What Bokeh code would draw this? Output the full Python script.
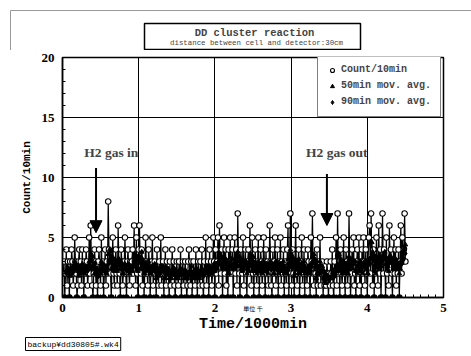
from bokeh.plotting import figure
from bokeh.models import (Legend, LegendItem, Label, Arrow, NormalHead, FixedTicker, Range1d,
                          LinearAxis, Title)
from bokeh.layouts import column
from bokeh.embed import file_html
from bokeh.resources import INLINE

# ---- data (counts per 10 min) ----
counts = [
    2,3,0,2,4,1,3,2,0,3, 2,4,3,1,2,5,3,2,0,1, 3,4,2,3,1,4,2,0,3,2,
    4,3,1,2,5,2,6,3,1,0, 2,4,3,1,2,0,3,4,2,1, 5,2,3,0,2,4,1,3,2,8,
    4,3,2,0,3,5,2,1,3,4, 2,1,6,3,2,0,4,3,1,2, 3,5,2,0,3,4,2,1,3,2,
    3,4,2,6,3,1,5,2,0,4, 6,3,2,4,1,3,0,2,5,3, 2,1,4,3,0,2,3,5,1,2,
    3,2,0,4,2,1,3,2,5,1, 2,3,0,2,4,1,3,2,2,0, 3,1,2,4,2,3,1,0,2,3,
    2,1,3,2,4,0,2,3,1,2, 3,2,0,1,3,4,2,1,3,0, 2,3,2,1,4,2,0,3,2,1,
    3,2,4,1,0,3,2,5,1,2, 3,0,4,2,3,1,2,5,3,0, 4,2,3,5,1,6,3,2,4,0,
    3,5,2,4,1,3,0,4,2,5, 3,2,4,0,3,5,2,4,1,7, 3,2,0,4,3,2,5,1,3,4,
    2,0,3,4,2,6,3,1,5,2, 0,3,4,2,1,3,5,0,2,4, 3,1,2,5,3,0,4,2,3,1,
    2,6,3,1,0,4,2,3,5,1, 2,4,0,3,2,5,1,3,2,4, 0,3,2,1,4,6,0,3,7,2,
    1,4,2,0,3,6,2,1,3,4, 0,2,3,5,1,2,4,0,3,2, 1,4,3,2,0,5,3,7,2,1,
    3,2,0,4,1,3,2,5,1,2, 3,0,2,1,2,1,3,2,0,2, 1,3,2,4,1,0,3,2,5,1,
    7,2,3,0,4,2,1,3,5,2, 0,4,3,1,2,7,3,0,2,4, 3,5,1,2,0,3,4,2,5,1,
    3,0,4,2,5,3,1,4,2,0, 3,5,6,2,7,3,1,4,0,3, 2,5,3,1,6,2,4,0,3,7,
    2,4,3,0,5,2,3,1,6,3, 4,2,0,3,5,2,4,1,3,2, 4,0,3,6,2,5,3,4,7,3,
]
interval_min = 10
time_k = [(i + 1) * interval_min / 1000.0 for i in range(len(counts))]

def mov_avg(vals, n):
    out = []
    for i in range(len(vals)):
        if i + 1 < n:
            out.append(float("nan"))
        else:
            out.append(sum(vals[i + 1 - n:i + 1]) / n)
    return out

avg50 = mov_avg(counts, 5)
avg90 = mov_avg(counts, 9)

x_ticks = [0, 1, 2, 3, 4, 5]
y_ticks = [0, 5, 10, 15, 20]
series_names = ["Count/10min", "50min mov. avg.", "90min mov. avg."]
title_text = "DD cluster reaction"
subtitle_text = "distance between cell and detector:30cm"
footnote_text = "backup¥dd30805#.wk4"

# annotation positions (data units)
gas_in_text = (0.64, 12.1)
gas_in_arrow = (0.44, 10.8, 5.4)
gas_out_text = (3.6, 12.1)
gas_out_arrow = (3.47, 10.3, 6.0)

MONO = "Liberation Mono"
SERIF = "Liberation Serif"
W = 471
TOP_H = 50
MAIN_H = 356 - TOP_H

# ---------------- top strip: title box ----------------
t = figure(width=W, height=TOP_H, output_backend="svg", toolbar_location=None,
           y_range=Range1d(TOP_H, 0), min_border=0, x_axis_type=None, y_axis_type=None)
if "frame_align" in t.properties():
    t.frame_align = False
    t.x_range = Range1d(0, W)
    page_x0 = 10
else:
    t.min_border_left = 62
    t.min_border_right = 28
    t.x_range = Range1d(62, 443)
    page_x0 = 62
t.outline_line_color = None
t.grid.visible = False
t.background_fill_color = "white"
t.border_fill_color = "white"
t.segment(x0=[page_x0], y0=[10], x1=[W], y1=[10], line_color="#999999", line_width=1)
t.segment(x0=[page_x0], y0=[10], x1=[page_x0], y1=[TOP_H], line_color="#999999", line_width=1)
t.quad(left=[144], right=[360], top=[23], bottom=[49], fill_color="white",
       line_color="black", line_width=1.5)
t.add_layout(Label(x=254, y=32, text=title_text, text_font=MONO, text_font_style="bold",
                   text_font_size="10.5px", text_align="center", text_baseline="middle"))
t.add_layout(Label(x=256, y=42.5, text=subtitle_text, text_font=MONO,
                   text_font_size="7.4px", text_align="center", text_baseline="middle"))

# ---------------- main chart ----------------
p = figure(width=W, height=MAIN_H, output_backend="svg", toolbar_location=None,
           x_range=Range1d(0, 5), y_range=Range1d(0, 20),
           min_border_left=62, min_border_right=28, min_border_top=7, min_border_bottom=59)
p.background_fill_color = "white"
p.border_fill_color = "white"
p.outline_line_color = "black"
p.outline_line_width = 1.5

for ax in (p.xaxis[0], p.yaxis[0]):
    ax.major_tick_in = 5
    ax.major_tick_out = 0
    ax.minor_tick_in = 3
    ax.minor_tick_out = 0
    ax.axis_line_color = "black"
    ax.axis_line_width = 1.5
    ax.major_tick_line_color = "black"
    ax.minor_tick_line_color = "black"
    ax.major_label_text_font = SERIF
    ax.major_label_text_font_style = "bold"
    ax.major_label_text_font_size = "13px"
    ax.major_label_text_color = "black"
    ax.axis_label_text_font = MONO
    ax.axis_label_text_font_style = "bold"
    ax.axis_label_text_color = "black"

p.xaxis[0].ticker = FixedTicker(ticks=x_ticks, minor_ticks=[i / 10 for i in range(51)])
p.yaxis[0].ticker = FixedTicker(ticks=y_ticks, minor_ticks=list(range(21)))
p.xaxis[0].major_label_standoff = 6
p.yaxis[0].axis_label = "Count/10min"
p.yaxis[0].axis_label_text_font_size = "11px"
p.yaxis[0].axis_label_standoff = 6
p.yaxis[0].major_label_standoff = 8

# unit note and x title as stacked label-only axes below the main x axis
for lbl, size, stand in (("単位 千", "6px", -11), ("Time/1000min", "15px", 0)):
    a = LinearAxis(ticker=FixedTicker(ticks=[]), axis_label=lbl)
    a.axis_line_color = None
    a.major_tick_line_color = None
    a.minor_tick_line_color = None
    a.major_tick_out = 0
    a.major_tick_in = 0
    a.minor_tick_out = 0
    a.minor_tick_in = 0
    a.major_label_text_font_size = "0px"
    a.major_label_standoff = 0
    a.axis_label_standoff = stand
    a.axis_label_text_font_size = size
    a.axis_label_text_font = "Noto Sans CJK JP" if lbl.startswith("単") else MONO
    a.axis_label_text_font_style = "normal" if lbl.startswith("単") else "bold"
    a.axis_label_text_color = "black"
    p.add_layout(a, "below")

foot = Title(text=footnote_text, align="left", offset=-37, text_font=MONO,
             text_font_size="8px", text_font_style="normal", text_color="black",
             border_line_color="black", border_line_width=1, background_fill_color="white",
             padding=2, standoff=0)
p.add_layout(foot, "below")

p.xgrid.grid_line_color = "black"
p.ygrid.grid_line_color = "black"
p.xgrid.grid_line_width = 1
p.ygrid.grid_line_width = 1
p.xgrid.ticker = FixedTicker(ticks=x_ticks)
p.ygrid.ticker = FixedTicker(ticks=y_ticks)

zero_fill = ["black" if c == 0 else "white" for c in counts]

p.line(time_k, counts, line_color="black", line_width=1.2)
rc = p.scatter(time_k, counts, marker="circle", size=5.5, fill_color=zero_fill, line_color="black", line_width=1.1)
p.line(time_k, avg90, line_color="black", line_width=1)
p.line(time_k, avg50, line_color="black", line_width=1)
r90 = p.scatter(time_k, avg90, marker="diamond", size=5, fill_color="black", line_color="black", line_width=1)
r50 = p.scatter(time_k, avg50, marker="triangle", size=4.5, fill_color="black", line_color="black")

legend = Legend(items=[LegendItem(label=series_names[0], renderers=[rc], index=1),
                       LegendItem(label=series_names[1], renderers=[r50]),
                       LegendItem(label=series_names[2], renderers=[r90])],
                location=(255, 180))
legend.border_line_color = "black"
legend.border_line_width = 1
legend.background_fill_color = "white"
legend.background_fill_alpha = 1
legend.label_text_font = MONO
legend.label_text_font_style = "bold"
legend.label_text_font_size = "10px"
legend.label_height = 10
legend.glyph_height = 10
legend.glyph_width = 10
legend.spacing = 5
legend.padding = 9
legend.margin = 0
legend.label_standoff = 4
p.add_layout(legend, "center")

p.add_layout(Label(x=gas_in_text[0], y=gas_in_text[1], text="H2 gas in", text_font=SERIF,
                   text_font_style="bold", text_font_size="13.5px", text_align="center",
                   text_baseline="middle"))
p.add_layout(Label(x=gas_out_text[0], y=gas_out_text[1], text="H2 gas out", text_font=SERIF,
                   text_font_style="bold", text_font_size="13.5px", text_align="center",
                   text_baseline="middle"))
p.add_layout(Arrow(x_start=gas_in_arrow[0], y_start=gas_in_arrow[1], x_end=gas_in_arrow[0],
                   y_end=gas_in_arrow[2], line_width=2,
                   end=NormalHead(size=12, fill_color="black", line_color="black")))
p.add_layout(Arrow(x_start=gas_out_arrow[0], y_start=gas_out_arrow[1], x_end=gas_out_arrow[0],
                   y_end=gas_out_arrow[2], line_width=2,
                   end=NormalHead(size=12, fill_color="black", line_color="black")))

layout = column(t, p, spacing=0)
open("out.html", "w").write(file_html(layout, INLINE))
